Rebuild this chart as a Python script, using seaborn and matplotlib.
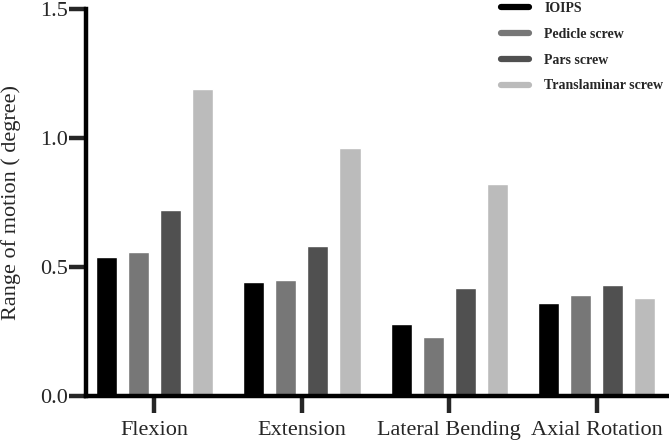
import numpy as np
import pandas as pd
import matplotlib
matplotlib.use('Agg')
import matplotlib.pyplot as plt
import seaborn as sns
from matplotlib.lines import Line2D

# данные
motions = ['Flexion', 'Extension', 'Lateral Bending', 'Axial Rotation']
methods = ['IOIPS', 'Pedicle screw', 'Pars screw', 'Translaminar screw']
ioips = [0.54, 0.44, 0.28, 0.36]
pedicle = [0.56, 0.45, 0.23, 0.39]
pars = [0.72, 0.58, 0.42, 0.43]
translaminar = [1.19, 0.96, 0.82, 0.38]
colors = ['#000000', '#777777', '#505050', '#bbbbbb']

df = pd.DataFrame({
    'motion': motions * 4,
    'method': np.repeat(methods, 4),
    'rom': ioips + pedicle + pars + translaminar,
})

sns.set_style('white')
plt.rcParams['font.family'] = ['Liberation Serif', 'DejaVu Serif']

fig = plt.figure(figsize=(6.69, 4.42), dpi=100)
ax = fig.add_axes([86 / 669, 1 - 396 / 442, (667 - 86) / 669, (396 - 9) / 442])

sns.barplot(data=df, x='motion', y='rom', hue='method', order=motions,
            hue_order=methods, palette=colors, width=0.87, gap=0.34,
            saturation=1, legend=False, ax=ax)

ax.set_xlim(-0.463, 3.476)
ax.set_ylim(0, 1.5)
ax.set_yticks([0.0, 0.5, 1.0, 1.5])
ax.set_yticklabels(['0.0', '0.5', '1.0', '1.5'])
ax.set_xlabel('')
ax.set_ylabel('Range of motion ( degree)', fontsize=16, labelpad=14)

for side in ['top', 'right']:
    ax.spines[side].set_visible(False)
for side in ['left', 'bottom']:
    ax.spines[side].set_linewidth(3.2)
    ax.spines[side].set_color('black')

ax.tick_params(axis='y', length=12, width=3.2, labelsize=16, pad=1, left=True)
ax.tick_params(axis='x', length=12, width=3.2, labelsize=16, pad=6, bottom=True)

handles = [Line2D([0], [0], color=c, lw=4.5) for c in colors]
leg = ax.legend(handles, methods, loc='upper left', bbox_to_anchor=(0.693, 1.05),
                frameon=False, handlelength=2.0, handletextpad=1.1,
                labelspacing=0.92, prop={'weight': 'bold', 'size': 10})

fig.savefig('out.png', dpi=100)
